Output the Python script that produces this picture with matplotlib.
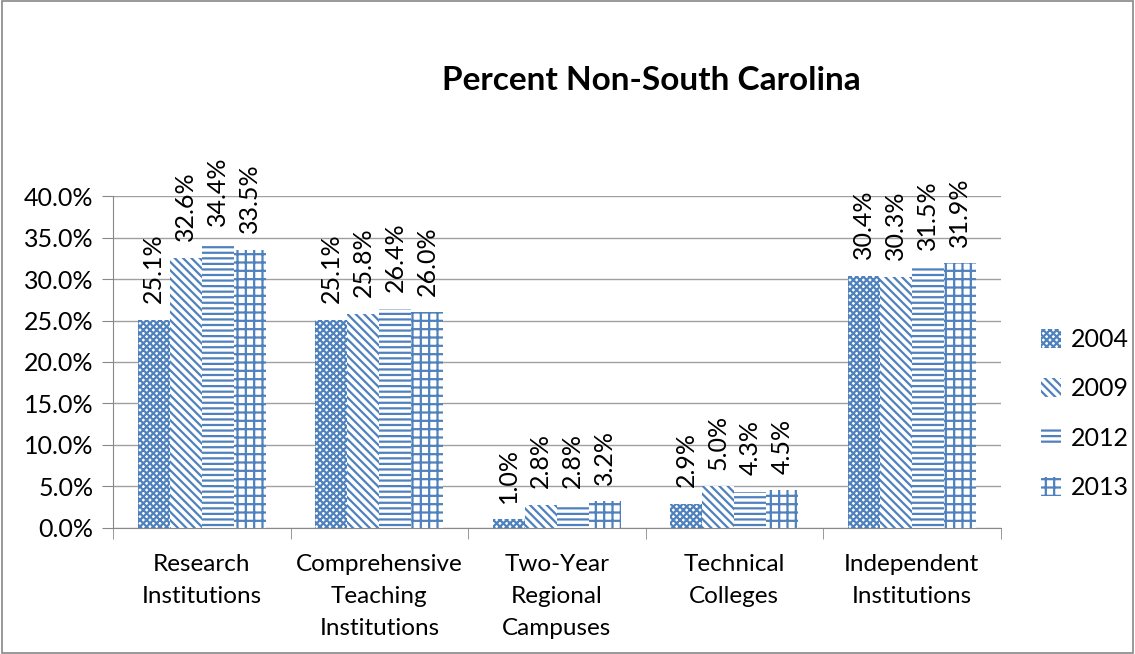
import numpy as np
import matplotlib.pyplot as plt
from matplotlib.patches import Rectangle

categories = ["Research\nInstitutions", "Comprehensive\nTeaching\nInstitutions",
              "Two-Year\nRegional\nCampuses", "Technical\nColleges",
              "Independent\nInstitutions"]
years = ["2004", "2009", "2012", "2013"]
v2004 = [25.1, 25.1, 1.0, 2.9, 30.4]
v2009 = [32.6, 25.8, 2.8, 5.0, 30.3]
v2012 = [34.4, 26.4, 2.8, 4.3, 31.5]
v2013 = [33.5, 26.0, 3.2, 4.5, 31.9]
series = [v2004, v2009, v2012, v2013]
hatches = ["xxxxx", "\\\\\\\\", "---", "++"]

blue = "#4F81BD"
plt.rcParams["font.family"] = ["Lato", "DejaVu Sans"]
plt.rcParams["hatch.color"] = blue
plt.rcParams["hatch.linewidth"] = 1.6

fig = plt.figure(figsize=(11.35, 6.54), dpi=100)
ax = fig.add_axes([0.0996, 0.193, 0.782, 0.507])

x = np.arange(len(categories))
w = 0.18
for i, (vals, h, lab) in enumerate(zip(series, hatches, years)):
    pos = x + (i - 1.5) * w
    ax.bar(pos, vals, w, facecolor="white", edgecolor=blue,
           linewidth=0, hatch=h, label=lab)
    for xp, v in zip(pos, vals):
        ax.annotate(f"{v:.1f}%", (xp, v), xytext=(0, 12), textcoords="offset points",
                    rotation=90, ha="center", va="bottom", fontsize=18)

ax.set_xlim(-0.5, len(categories) - 0.5)
ax.set_ylim(0, 40)
ax.set_yticks(np.arange(0, 41, 5))
ax.set_yticklabels([f"{t:.1f}%" for t in np.arange(0, 41, 5)], fontsize=18)
ax.set_xticks(x)
ax.set_xticklabels(categories, fontsize=17.5, linespacing=1.65)
ax.set_xticks(np.arange(-0.5, len(categories), 1), minor=True)
ax.tick_params(axis="x", which="major", length=0, pad=19)
ax.tick_params(axis="x", which="minor", length=8, color="#888888")
ax.tick_params(axis="y", length=8, color="#888888", pad=6)
ax.grid(axis="y", color="#a0a0a0", linewidth=1)
ax.set_axisbelow(True)
for s in ["top", "right"]:
    ax.spines[s].set_visible(False)
for s in ["left", "bottom"]:
    ax.spines[s].set_color("#888888")

fig.text(0.574, 0.877, "Percent Non-South Carolina", ha="center", va="center",
         fontsize=24, fontweight="bold")

ax.legend(loc="center left", bbox_to_anchor=(1.02, 0.345), frameon=False,
          fontsize=18, labelspacing=1.05, handlelength=0.8, handleheight=0.8,
          handletextpad=0.4)

fig.patches.append(Rectangle((0.002, 0.002), 0.996, 0.996, transform=fig.transFigure,
                             fill=False, edgecolor="#888888", linewidth=1.2))

fig.savefig("out.png", dpi=100)
